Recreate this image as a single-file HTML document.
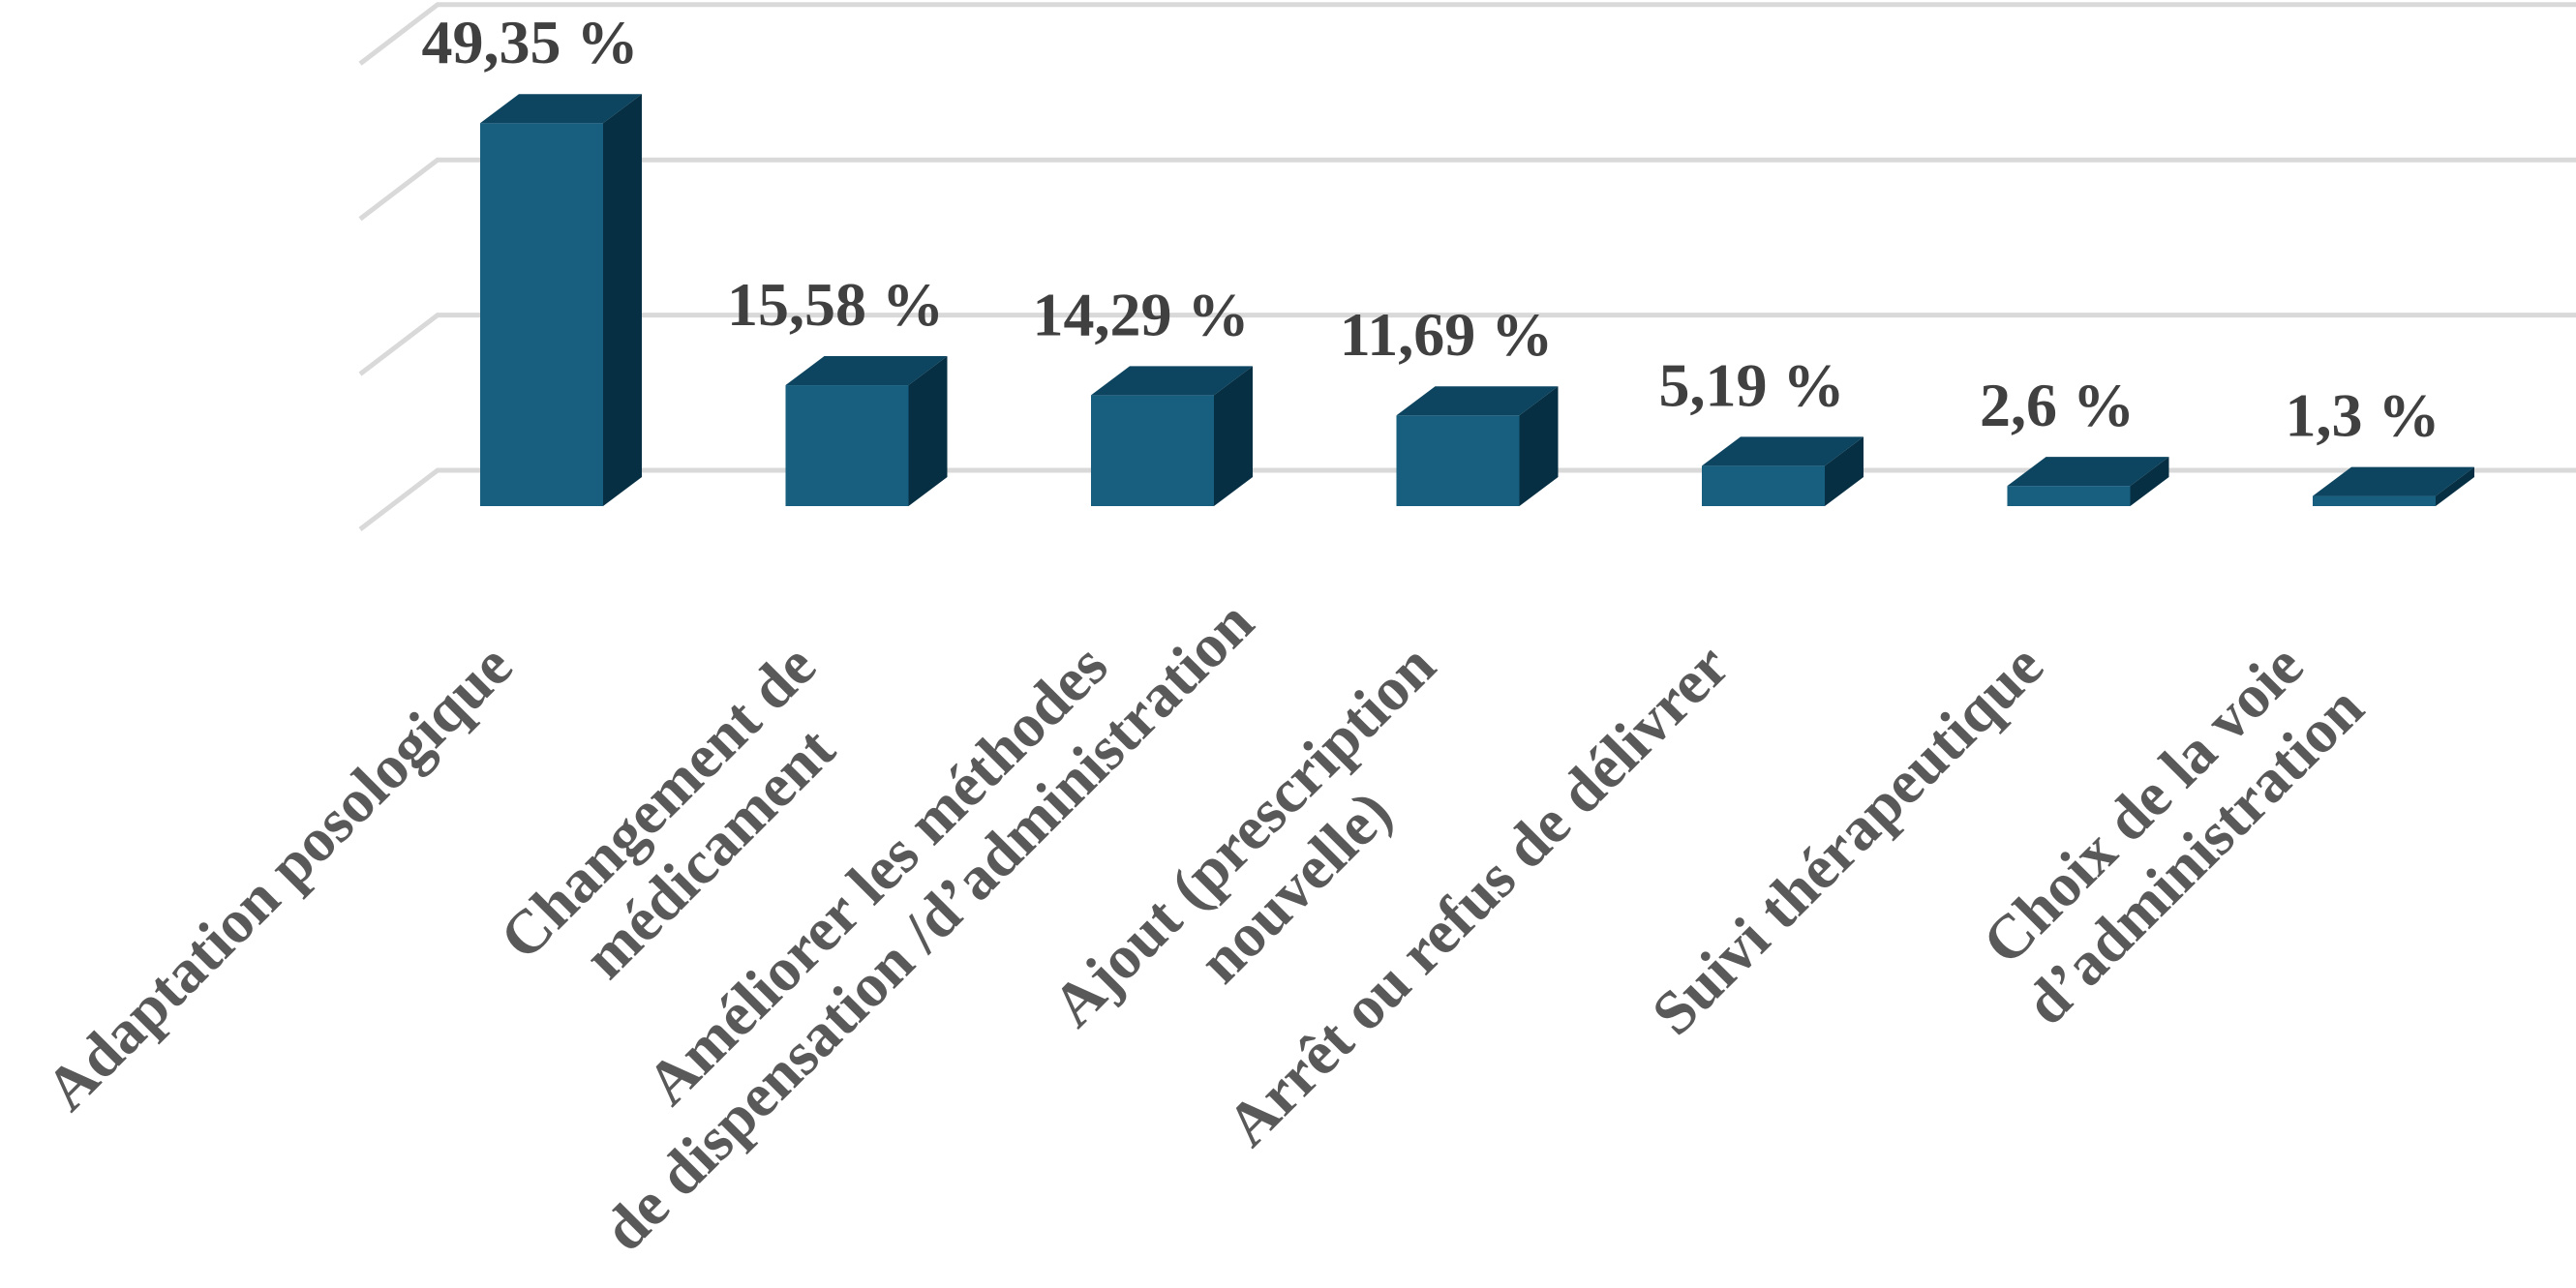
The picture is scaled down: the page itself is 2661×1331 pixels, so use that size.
<!DOCTYPE html>
<html><head><meta charset="utf-8">
<style>
html,body{margin:0;padding:0;background:#fff;}
svg{display:block;}
</style></head>
<body>
<svg id="chart" width="2661" height="1331" viewBox="0 0 2661 1331" xmlns="http://www.w3.org/2000/svg">
  <g id="grid"></g>
  <g id="bars"></g>
  <g id="values"></g>
  <g id="cats"></g>
</svg>
<script>
const categories = [
  ["Adaptation posologique"],
  ["Changement de", "médicament"],
  ["Améliorer les méthodes", "de dispensation /d’administration"],
  ["Ajout (prescription", "nouvelle)"],
  ["Arrêt ou refus de délivrer"],
  ["Suivi thérapeutique"],
  ["Choix de la voie", "d’administration"]
];
const values = [49.35, 15.58, 14.29, 11.69, 5.19, 2.6, 1.3];
const valueLabels = ["49,35 %", "15,58 %", "14,29 %", "11,69 %", "5,19 %", "2,6 %", "1,3 %"];
const gridTicks = [0, 20, 40, 60];

const NS = "http://www.w3.org/2000/svg";
const PX_PER_UNIT = 8.02;
const FRONT_ZERO = 523, BACK_ZERO = 486;
const X0 = 496, PITCH = 315.5, BW = 127, DX = 40, DY = 30;
const labelDx = [-47, -49, -63, -40, -52, -43, -90];

function yFront(v){ return FRONT_ZERO - v * PX_PER_UNIT; }
function yBack(v){ return BACK_ZERO - v * PX_PER_UNIT; }
function xBar(i){ return X0 + i * PITCH; }
function mk(tag, attrs, parent){
  const el = document.createElementNS(NS, tag);
  for (const k in attrs) el.setAttribute(k, attrs[k]);
  parent.appendChild(el);
  return el;
}

const grid = document.getElementById('grid');
gridTicks.forEach(t => {
  const y = yBack(t);
  const p = mk('polyline', {points: `372,${y+61} 452,${y} 2661,${y}`, fill:'none', stroke:'#d9d9d9', 'stroke-width':5}, grid);
  
  
});

const bars = document.getElementById('bars');
const vals = document.getElementById('values');
values.forEach((v, i) => {
  const x = xBar(i), yt = yFront(v), yb = FRONT_ZERO;
  const g = mk('g', {}, bars);
  
  
  const front = mk('rect', {x:x, y:yt, width:BW, height:yb-yt, fill:'#175e7f'}, g);
  
  
  const top = mk('polygon', {points:`${x},${yt} ${x+DX},${yt-DY} ${x+BW+DX},${yt-DY} ${x+BW},${yt}`, fill:'#0d4560'}, g);
  
  
  const side = mk('polygon', {points:`${x+BW},${yt} ${x+BW+DX},${yt-DY} ${x+BW+DX},${yb-DY} ${x+BW},${yb}`, fill:'#072f43'}, g);
  
  

  const t = mk('text', {x: x + BW/2 - 12, y: yt - DY - 32, 'text-anchor':'middle',
    'font-family':'"Liberation Serif", serif', 'font-weight':'bold', 'font-size':64, fill:'#404040'}, vals);
  t.textContent = valueLabels[i];
  
  
});

const cats = document.getElementById('cats');
categories.forEach((lines, i) => {
  const cx = xBar(i) + BW/2;
  const bx = cx + labelDx[i] + 20, by = 692;
  const g = mk('g', {transform:`translate(${bx},${by}) rotate(-45)`}, cats);
  
  
  const els = lines.map((ln, j) => {
    const t = mk('text', {x:0, y: j*75, 'text-anchor':'middle',
      'font-family':'"Liberation Serif", serif', 'font-weight':'bold', 'font-size':64, fill:'#595959'}, g);
    t.textContent = ln;
    
    
    return t;
  });
  const w1 = els[0].getComputedTextLength();
  els.forEach(t => t.setAttribute('x', -w1/2));
});
</script>
</body></html>
